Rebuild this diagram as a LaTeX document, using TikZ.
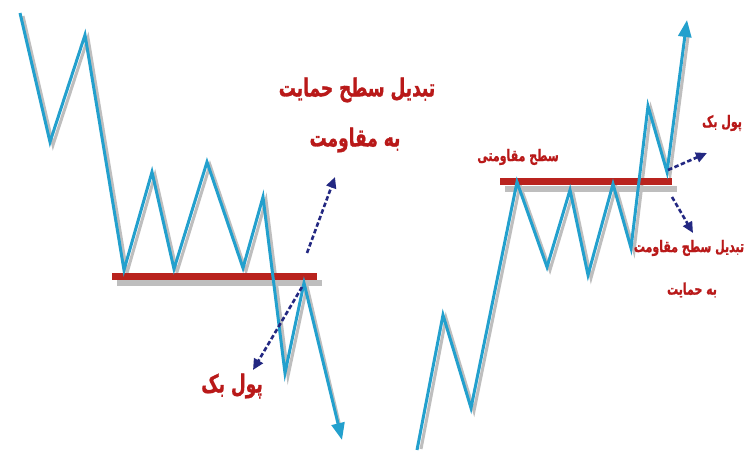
\documentclass[tikz,border=0pt]{standalone}
\usepackage{fontspec}
\usepackage{graphicx}
\newfontfamily\arabicfont[Script=Arabic,BoldFeatures={FakeBold=1.2}]{DejaVu Sans}
\TeXXeTstate=1
\usetikzlibrary{arrows.meta}
\definecolor{price}{RGB}{35,160,205}
\definecolor{lvl}{RGB}{185,35,30}
\definecolor{lbl}{RGB}{185,25,25}
\definecolor{dashc}{RGB}{35,40,130}
\definecolor{shade}{RGB}{190,190,190}
\newcommand{\tallrtl}[1]{\scalebox{1}[1.45]{\beginR #1\endR}}
\begin{document}
\begin{tikzpicture}[x=1pt,y=-1pt,
  pricebase/.style={line width=3pt,line join=miter},
  priceline/.style={pricebase,draw=price,-{Triangle[length=17pt,width=13pt]}},
  priceshadow/.style={pricebase,draw=shade,transform canvas={shift={(3pt,-3pt)}}},
  levelline/.style={line width=7pt,draw=lvl},
  levelshadow/.style={line width=6pt,draw=shade,transform canvas={shift={(5pt,-7pt)}}},
  hint/.style={draw=dashc,line width=2.6pt,dash pattern=on 4.5pt off 2.5pt,-{Triangle[length=11pt,width=10pt]}},
  biglbl/.style={text=lbl,font=\arabicfont\bfseries\fontsize{17}{20}\selectfont,inner sep=0pt},
  smalllbl/.style={text=lbl,font=\arabicfont\bfseries\fontsize{11}{13}\selectfont,inner sep=0pt}]
\useasboundingbox[fill=white] (0,0) rectangle (749,454);
% left chart
\coordinate (L0) at (20,13);
\coordinate (L1) at (50,142);
\coordinate (L2) at (85,35);
\coordinate (L3) at (124,270);
\coordinate (L4) at (152,172);
\coordinate (L5) at (174,269);
\coordinate (L6) at (207,162);
\coordinate (L7) at (243,268);
\coordinate (L8) at (263,197);
\coordinate (L9) at (285,373);
\coordinate (L10) at (304,283);
\coordinate (L11) at (342,440);
\coordinate (SA) at (112,276);
\coordinate (SB) at (317,276);
% right chart
\coordinate (R0) at (417,450);
\coordinate (R1) at (443,315);
\coordinate (R2) at (471,408);
\coordinate (R3) at (517,182);
\coordinate (R4) at (547,267);
\coordinate (R5) at (570,190);
\coordinate (R6) at (588,275);
\coordinate (R7) at (613,184);
\coordinate (R8) at (631,248);
\coordinate (R9) at (648,106);
\coordinate (R10) at (667,172);
\coordinate (R11) at (687,20);
\coordinate (RA) at (500,182);
\coordinate (RB) at (672,182);
% shadows
\draw[levelshadow] (SA) -- (SB);
\draw[levelshadow] (RA) -- (RB);
\draw[priceshadow] (L0) -- (L1) -- (L2) -- (L3) -- (L4) -- (L5) -- (L6) -- (L7) -- (L8) -- (L9) -- (L10) -- ([shift={(-4,-12)}]L11);
\draw[priceshadow] ([shift={(1,-4)}]R0) -- (R1) -- (R2) -- (R3) -- (R4) -- (R5) -- (R6) -- (R7) -- (R8) -- (R9) -- (R10) -- ([shift={(-2,14)}]R11);
% levels
\draw[levelline] (SA) -- (SB);
\draw[levelline] (RA) -- (RB);
% price paths
\draw[priceline] (L0) -- (L1) -- (L2) -- (L3) -- (L4) -- (L5) -- (L6) -- (L7) -- (L8) -- (L9) -- (L10) -- (L11);
\draw[priceline] (R0) -- (R1) -- (R2) -- (R3) -- (R4) -- (R5) -- (R6) -- (R7) -- (R8) -- (R9) -- (R10) -- (R11);
% labels
\node[biglbl] (t1) at (357,90) {\tallrtl{تبدیل سطح حمایت}};
\node[biglbl] (t2) at (355,140) {\tallrtl{به مقاومت}};
\node[biglbl] (t3) at (232,386) {\tallrtl{پول بک}};
\node[smalllbl] (u1) at (518,157) {\tallrtl{سطح مقاومتی}};
\node[smalllbl] (u2) at (722,123) {\tallrtl{پول بک}};
\node[smalllbl] (u3) at (689,248) {\tallrtl{تبدیل سطح مقاومت}};
\node[smalllbl] (u4) at (692,290) {\tallrtl{به حمایت}};
% hint arrows
\coordinate (h1a) at (307,253);
\coordinate (h1b) at (335,177);
\coordinate (h2a) at (302,287);
\coordinate (h2b) at (253,370);
\coordinate (h3a) at (668,170);
\coordinate (h3b) at (707,153);
\coordinate (h4a) at (672,197);
\coordinate (h4b) at (693,233);
\draw[hint] (h1a) -- (h1b);
\draw[hint] (h2a) -- (h2b);
\draw[hint] (h3a) -- (h3b);
\draw[hint] (h4a) -- (h4b);
\end{tikzpicture}
\end{document}
